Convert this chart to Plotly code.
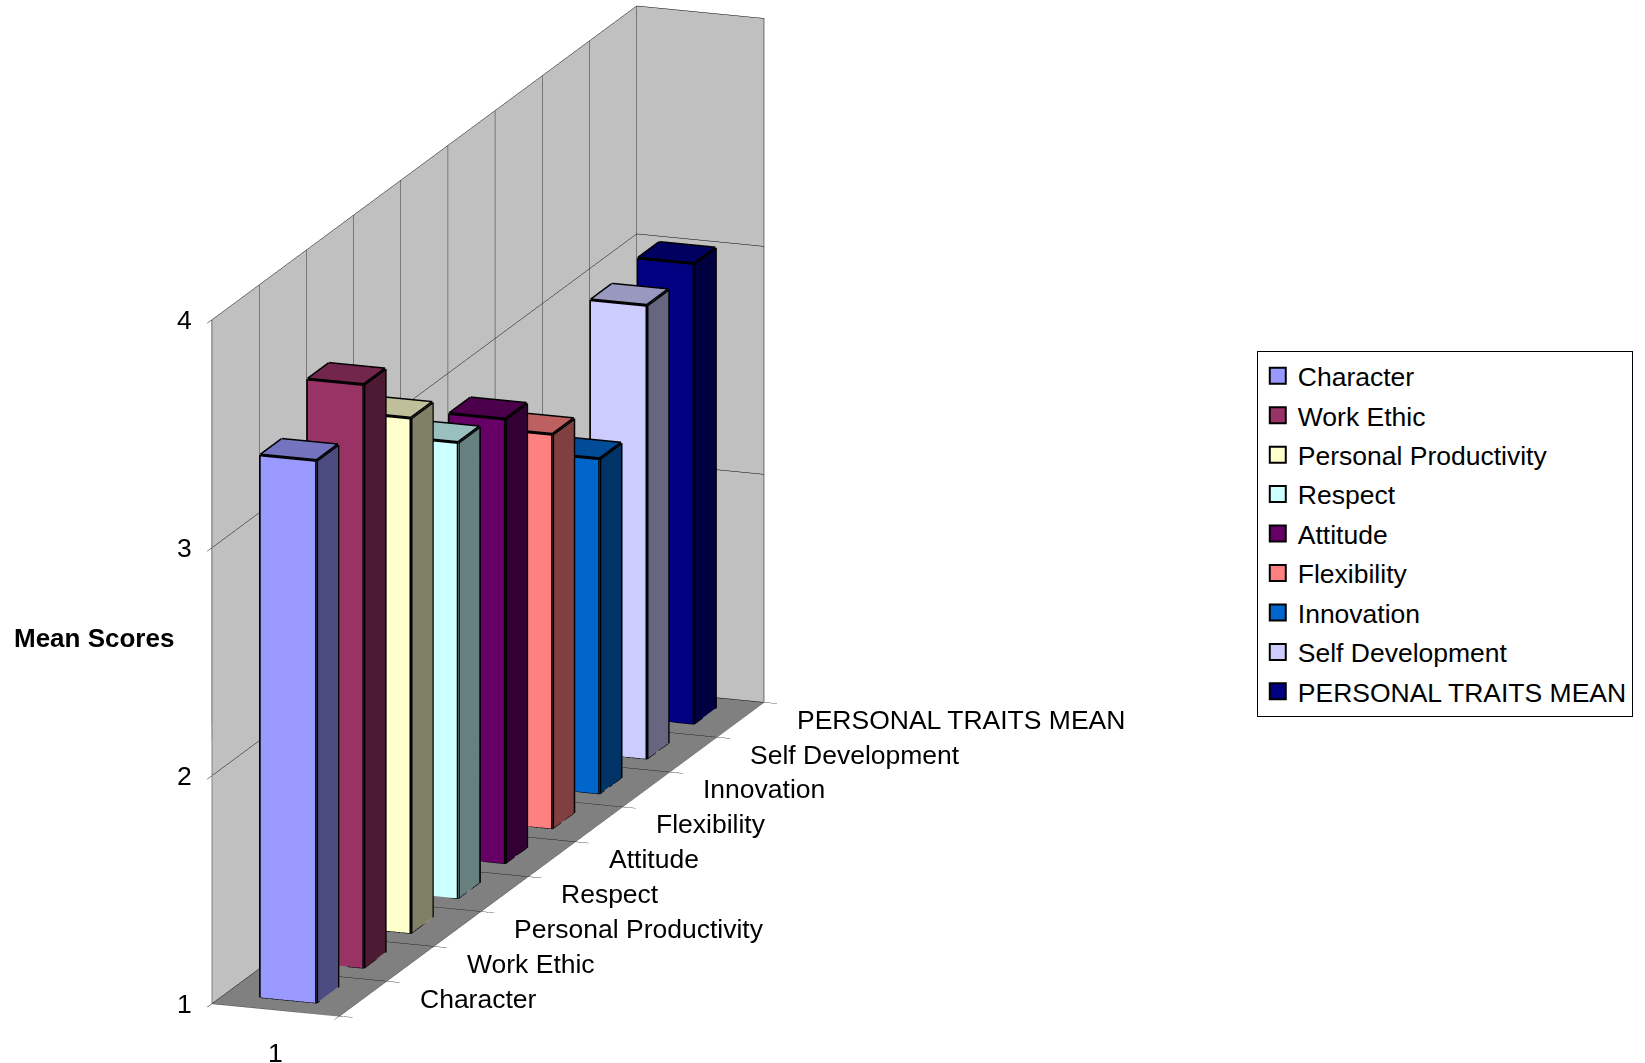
import plotly.graph_objects as go

# ---- data ----
series_names = ["Character", "Work Ethic", "Personal Productivity", "Respect", "Attitude",
                "Flexibility", "Innovation", "Self Development", "PERSONAL TRAITS MEAN"]
mean_scores = [3.38, 3.56, 3.26, 3.00, 2.95, 2.73, 2.47, 2.99, 3.02]
category_labels = ["1"]
z_ticks = [1, 2, 3, 4]

# ---- styles ----
front_colors = ["#9999FF", "#993366", "#FFFFCC", "#CCFFFF", "#660066",
                "#FF8080", "#0066CC", "#CCCCFF", "#000080"]

def shade(hex_color, f):
    h = hex_color.lstrip("#")
    r, g, b = (int(h[i:i + 2], 16) for i in (0, 2, 4))
    return "rgb(%d,%d,%d)" % (round(r * f), round(g * f), round(b * f))

FONT = "Arial, Liberation Sans, sans-serif"
BAR_X = (0.28, 0.72)    # bar width inside the category
BAR_HALF_DEPTH = 0.225  # bar depth inside each series slot
Z_BASE = 1.0
CAM_SHIFT = -0.040

fig = go.Figure()

for i, (name, val, col) in enumerate(zip(series_names, mean_scores, front_colors)):
    x0, x1 = BAR_X
    y0, y1 = i - BAR_HALF_DEPTH, i + BAR_HALF_DEPTH
    z0, z1 = Z_BASE, val
    vx = [x0, x1, x1, x0, x0, x1, x1, x0]
    vy = [y0, y0, y1, y1, y0, y0, y1, y1]
    vz = [z0, z0, z0, z0, z1, z1, z1, z1]
    I = [0, 0, 3, 3, 0, 0, 1, 1, 0, 0, 4, 4]
    J = [1, 5, 2, 6, 3, 7, 2, 6, 1, 2, 5, 6]
    K = [5, 4, 6, 7, 7, 4, 6, 5, 2, 3, 6, 7]
    base = shade(col, 1.0)
    dark = shade(col, 0.5)
    top = shade(col, 0.75)
    fc = [base, base, base, base, dark, dark, dark, dark, base, base, top, top]
    fig.add_trace(go.Mesh3d(x=vx, y=vy, z=vz, i=I, j=J, k=K, facecolor=fc,
                            flatshading=True,
                            lighting=dict(ambient=1.0, diffuse=0.0, specular=0.0,
                                          roughness=1.0, fresnel=0.0),
                            hoverinfo="skip", showlegend=False, name=name))
    edges = [(0, 1), (1, 2), (2, 3), (3, 0), (4, 5), (5, 6), (6, 7), (7, 4),
             (0, 4), (1, 5), (2, 6), (3, 7)]
    ex, ey, ez = [], [], []
    for a, b in edges:
        ex += [vx[a], vx[b], None]
        ey += [vy[a], vy[b], None]
        ez += [vz[a], vz[b], None]
    fig.add_trace(go.Scatter3d(x=ex, y=ey, z=ez, mode="lines",
                               line=dict(color="black", width=6),
                               hoverinfo="skip", showlegend=False))

# legend entries (2D dummy traces)
for i, (name, col) in enumerate(zip(series_names, front_colors)):
    fig.add_trace(go.Scatter(x=[None], y=[None], mode="markers", name=name,
                             legendgroup=str(i),
                             marker=dict(symbol="square", size=16, color=col,
                                         line=dict(color="black", width=2))))

n = len(series_names)
slot_bounds = [k - 0.5 for k in range(n + 1)]
LABEL_SIZE = 26.5

annotations3d = []
for i, name in enumerate(series_names):
    annotations3d.append(dict(x=1, y=i, z=Z_BASE, text=name, showarrow=False,
                              xanchor="left", yanchor="middle", xshift=55,
                              font=dict(family=FONT, size=LABEL_SIZE, color="black")))
for v in z_ticks:
    annotations3d.append(dict(x=0, y=-0.5, z=v, text=str(v), showarrow=False,
                              xanchor="right", yanchor="middle", xshift=-18,
                              font=dict(family=FONT, size=LABEL_SIZE, color="black")))
annotations3d.append(dict(x=0.5, y=-0.5, z=Z_BASE, text=category_labels[0], showarrow=False,
                          xanchor="center", yanchor="top", yshift=-26,
                          font=dict(family=FONT, size=LABEL_SIZE, color="black")))

axis_common = dict(showspikes=False, zeroline=False, showticklabels=False,
                   title=dict(text=""), ticks="outside", ticklen=14,
                   tickcolor="black", gridcolor="black", gridwidth=1,
                   showline=True, linecolor="#808080", linewidth=2,
                   showbackground=True)

fig.update_layout(
    width=1645, height=1063,
    paper_bgcolor="white", plot_bgcolor="white",
    margin=dict(l=0, r=0, t=0, b=0),
    hovermode=False,
    xaxis=dict(visible=False), yaxis=dict(visible=False),
    scene=dict(
        domain=dict(x=[0, 0.5933], y=[0.0, 1.0]),
        xaxis=dict(range=[0, 1], tickvals=[0, 1], backgroundcolor="#C0C0C0", **axis_common),
        yaxis=dict(range=[-0.5, n - 0.5], tickvals=slot_bounds, backgroundcolor="#C0C0C0", **axis_common),
        zaxis=dict(range=[1, 4], tickvals=z_ticks, backgroundcolor="#808080", **axis_common),
        aspectmode="manual",
        aspectratio=dict(x=0.255, y=2.336, z=1.336),
        camera=dict(eye=dict(x=1.318, y=-3.621, z=1.076 + CAM_SHIFT), up=dict(x=0, y=0, z=1),
                    center=dict(x=0, y=0, z=CAM_SHIFT), projection=dict(type="orthographic")),
        annotations=annotations3d,
    ),
    legend=dict(x=0.764, y=0.6698, xanchor="left", yanchor="top",
                bordercolor="black", borderwidth=1, bgcolor="white",
                font=dict(family=FONT, size=LABEL_SIZE, color="black"),
                traceorder="grouped", tracegroupgap=2, itemwidth=30),
    annotations=[dict(x=94 / 1645, y=1 - 638 / 1063, xref="paper", yref="paper",
                      xanchor="center", yanchor="middle",
                      text="<b>Mean Scores</b>", showarrow=False,
                      font=dict(family=FONT, size=26, color="black"))],
)

fig.write_html("out.html", config=dict(displayModeBar=False))
